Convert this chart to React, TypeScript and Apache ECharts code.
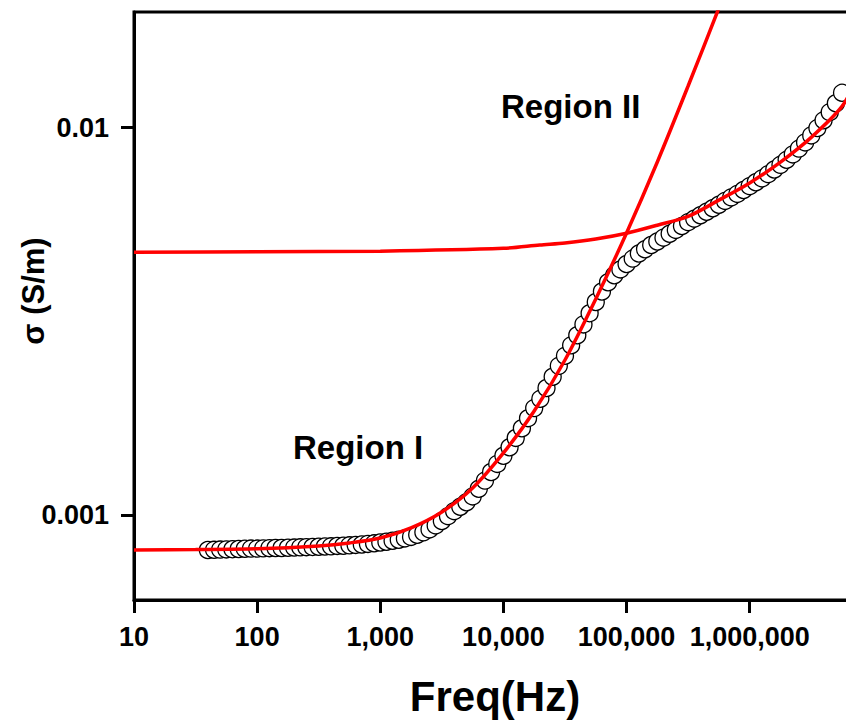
import React, { useEffect, useRef } from "react";
import * as echarts from "echarts";

// Measured conductivity (open circles)
const freq = [
  39.8, 44.7, 50.1, 56.2, 63.1, 70.8, 79.4, 89.1,
  100, 112, 126, 141, 158, 178, 200, 224, 251, 282, 316, 355, 398, 447, 501, 562, 631, 708, 794, 891,
  1000, 1122, 1259, 1413, 1585, 1778, 1995, 2239, 2512, 2818, 3162, 3548, 3981, 4467, 5012, 5623, 6310, 7079, 7943, 8913,
  10000, 11220, 12590, 14130, 15850, 17780, 19950, 22390, 25120, 28180, 31620, 35480, 39810, 44670, 50120, 56230, 63100, 70790, 79430, 89130,
  100000, 112200, 125900, 141300, 158500, 177800, 199500, 223900, 251200, 281800, 316200, 354800, 398100, 446700, 501200, 562300, 631000, 707900, 794300, 891300,
  1000000, 1122000, 1259000, 1413000, 1585000, 1778000, 1995000, 2239000, 2512000, 2818000, 3162000, 3548000, 3981000, 4467000, 5012000, 5623000,
];
const sigma = [
  0.000812, 0.000813, 0.000814, 0.000815, 0.000816, 0.000817, 0.000818, 0.000819,
  0.000819, 0.00082, 0.000821, 0.000822, 0.000822, 0.000823, 0.000824, 0.000825, 0.000826, 0.000827, 0.000828, 0.000829, 0.00083, 0.000832, 0.000833, 0.000835, 0.000837, 0.000839, 0.000842, 0.000845,
  0.000849, 0.000853, 0.000858, 0.000863, 0.00087, 0.000878, 0.000889, 0.000902, 0.000918, 0.00094, 0.000965, 0.000993, 0.001023, 0.00105, 0.001079, 0.001117, 0.001169, 0.001227, 0.001291, 0.001355,
  0.001422, 0.001496, 0.001581, 0.001675, 0.001778, 0.001888, 0.001995, 0.002128, 0.002275, 0.002427, 0.002576, 0.002742, 0.002911, 0.003105, 0.003319, 0.003548, 0.003776, 0.00399, 0.004159, 0.004305,
  0.004446, 0.004592, 0.004732, 0.004853, 0.004977, 0.005082, 0.0052, 0.005321, 0.005445, 0.005572, 0.005702, 0.005821, 0.005943, 0.006067, 0.006194, 0.006324, 0.006471, 0.006607, 0.006745, 0.006902,
  0.007063, 0.007228, 0.007396, 0.007586, 0.007798, 0.008017, 0.00826, 0.008531, 0.008831, 0.009162, 0.00955, 0.009977, 0.010447, 0.010965, 0.011561, 0.012303,
];

// Fit curve, Region I
const fitIFreq = [10, 31.62, 100, 316.2, 562.3, 1000, 1778, 3162, 5623, 10000, 17780, 31620, 56230, 100000, 177800, 316200, 562300, 707900];
const fitISigma = [0.000812, 0.000814, 0.000818, 0.000832, 0.000847, 0.000872, 0.000926, 0.001018, 0.001174, 0.001446, 0.001856, 0.002513, 0.003612, 0.005348, 0.008156, 0.01281, 0.02037, 0.02464];

// Fit curve, Region II
const fitIIFreq = [10, 100, 1000, 10000, 19720, 31620, 56230, 100000, 177800, 316200, 562300, 1000000, 1778000, 3162000, 5600000, 7300000];
const fitIISigma = [0.00477, 0.00478, 0.0048, 0.00488, 0.00498, 0.00504, 0.00516, 0.00534, 0.0056, 0.0059, 0.0065, 0.0072, 0.00815, 0.00944, 0.01133, 0.01328];

const xTickValues = [10, 100, 1000, 10000, 100000, 1000000];
const yTickValues = [0.001, 0.01];
const xMin = 10;
const xMax = 7.3e6;
const yMin = 0.0006033;
const yMax = 0.01989;

const xAxisTitle = "Freq(Hz)";
const yAxisTitle = "σ (S/m)";
const regionLabels = ["Region I", "Region II"];

const FONT = "'Liberation Sans', Arial, Helvetica, sans-serif";

export default function App() {
  const ref = useRef<HTMLDivElement>(null);

  useEffect(() => {
    document.body.style.margin = "0";
    const chart = echarts.init(ref.current as HTMLDivElement, null, { renderer: "svg" });

    const dataPts = freq.map((f, i) => [f, sigma[i]]);
    const fitI = fitIFreq.map((f, i) => [f, fitISigma[i]]);
    const fitII = fitIIFreq.map((f, i) => [f, fitIISigma[i]]);

    chart.setOption({
      animation: false,
      backgroundColor: "#ffffff",
      grid: {
        left: 134,
        top: 12,
        right: -10,
        bottom: 120,
        show: true,
        borderColor: "#000",
        borderWidth: 3,
        backgroundColor: "transparent",
        containLabel: false,
        outerBoundsMode: "none",
      },
      xAxis: {
        type: "log",
        logBase: 10,
        min: xMin,
        max: xMax,
        name: xAxisTitle,
        nameLocation: "middle",
        nameGap: 75,
        nameMoveOverlap: false,
        nameTextStyle: { fontFamily: FONT, fontWeight: "bold", fontSize: 42, color: "#000" },
        axisLine: { show: true, lineStyle: { color: "#000", width: 3 } },
        axisTick: { show: true, length: 13, customValues: xTickValues, lineStyle: { color: "#000", width: 3 } },
        minorTick: { show: false },
        axisLabel: {
          customValues: xTickValues,
          margin: 23,
          fontFamily: FONT,
          fontWeight: "bold",
          fontSize: 27,
          color: "#000",
          formatter: (v: number) => Math.round(v).toLocaleString("en-US"),
        },
        splitLine: { show: false },
      },
      yAxis: {
        type: "log",
        logBase: 10,
        min: yMin,
        max: yMax,
        name: yAxisTitle,
        nameLocation: "middle",
        nameGap: 85,
        nameRotate: 90,
        nameMoveOverlap: false,
        nameTextStyle: { fontFamily: FONT, fontWeight: "bold", fontSize: 31, color: "#000", padding: [0, 0, 0, 30] },
        axisLine: { show: true, lineStyle: { color: "#000", width: 3 } },
        axisTick: { show: true, length: 13, customValues: yTickValues, lineStyle: { color: "#000", width: 3 } },
        minorTick: { show: false },
        axisLabel: {
          customValues: yTickValues,
          margin: 25,
          fontFamily: FONT,
          fontWeight: "bold",
          fontSize: 27,
          color: "#000",
          formatter: (v: number) => String(Number(v.toPrecision(3))),
        },
        splitLine: { show: false },
      },
      graphic: [
        {
          type: "text",
          x: 293,
          y: 447.5,
          z: 10,
          style: {
            text: regionLabels[0],
            fontFamily: FONT,
            fontWeight: "bold",
            fontSize: 33,
            fill: "#000",
            align: "left",
            verticalAlign: "middle",
          },
        },
        {
          type: "text",
          x: 501,
          y: 106.7,
          z: 10,
          style: {
            text: regionLabels[1],
            fontFamily: FONT,
            fontWeight: "bold",
            fontSize: 33,
            fill: "#000",
            align: "left",
            verticalAlign: "middle",
          },
        },
      ],
      series: [
        {
          name: "Data",
          type: "scatter",
          data: dataPts,
          symbol: "circle",
          symbolSize: 17,
          itemStyle: { color: "#ffffff", borderColor: "#000", borderWidth: 1.3, opacity: 1 },
          z: 2,
        },
        {
          name: "Fit Region I",
          type: "line",
          data: fitI,
          smooth: 0.3,
          showSymbol: false,
          symbol: "none",
          lineStyle: { color: "#ff0000", width: 3.5 },
          clip: true,
          z: 3,
        },
        {
          name: "Fit Region II",
          type: "line",
          data: fitII,
          smooth: 0.3,
          showSymbol: false,
          symbol: "none",
          lineStyle: { color: "#ff0000", width: 3.5 },
          clip: true,
          z: 3,
        },
      ],
    });

    return () => {
      chart.dispose();
    };
  }, []);

  return <div ref={ref} style={{ width: 846, height: 720 }} />;
}
